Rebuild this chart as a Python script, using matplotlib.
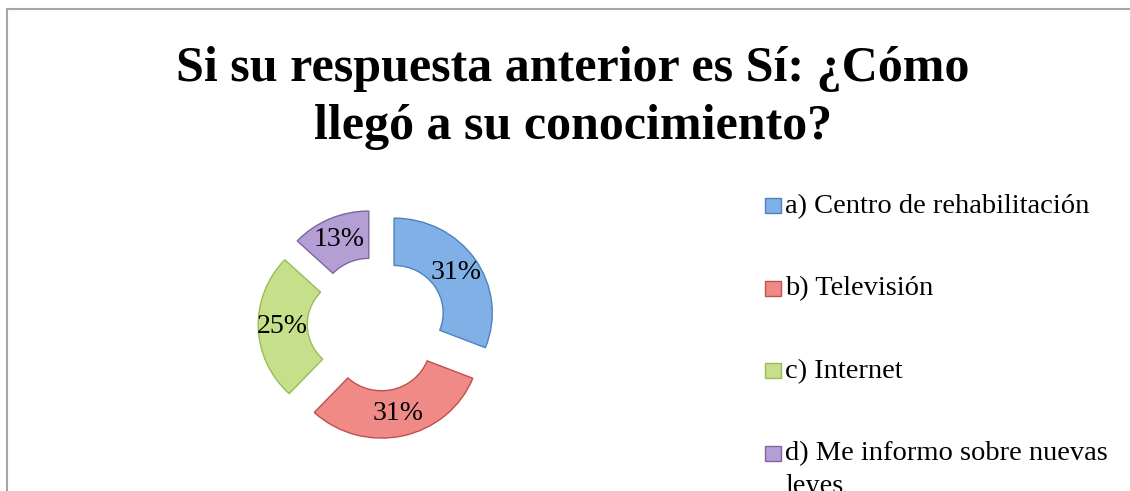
import matplotlib
matplotlib.use("Agg")
import matplotlib.pyplot as plt
from matplotlib.patches import Rectangle
import numpy as np

# data
categories = ["a) Centro de rehabilitación", "b) Televisión", "c) Internet",
              "d) Me informo sobre nuevas\nleyes"]
shares = [31, 31, 25, 13]
labels = ["31%", "31%", "25%", "13%"]
colors = ["#7fb0e6", "#f08a87", "#c6df8a", "#b39fd3"]
edge_colors = ["#4f81bd", "#c0504d", "#9bbb59", "#8064a2"]

title = "Si su respuesta anterior es Sí: ¿Cómo\nllegó a su conocimiento?"

plt.rcParams["font.family"] = ["Liberation Serif", "DejaVu Serif"]

W, H = 1130, 491
fig = plt.figure(figsize=(W / 100, H / 100), dpi=100)

# chart frame (bottom and right run off the picture)
fig.patches.append(Rectangle((7 / W, -0.1), 1.2, (H - 9) / H + 0.1,
                             transform=fig.transFigure, fill=False,
                             edgecolor="#a6a6a6", linewidth=1.5))

fig.text(0.507, 1 - 98 / H, title, ha="center", va="center", fontsize=36,
         fontweight="bold", linespacing=1.33)

# pie axes, centred on the donut (picture is a touch wider than tall)
cx, cy = 377, 324
ux, uy = 98.2, 94.7
ax = fig.add_axes([(cx - 1.5 * ux) / W, 1 - (cy + 1.5 * uy) / H, 3 * ux / W, 3 * uy / H])
wedges, texts = ax.pie(shares, colors=colors, startangle=90, counterclock=False,
                       explode=[0.21] * 4, radius=1.0,
                       wedgeprops=dict(width=0.5, linewidth=1.0))
for w, ec in zip(wedges, edge_colors):
    w.set_edgecolor(ec)
ax.set_xlim(-1.5, 1.5)
ax.set_ylim(-1.5, 1.5)
ax.set_aspect("auto")
ax.axis("off")

# percentage labels in the middle of each (exploded) ring segment
for w, lab in zip(wedges, labels):
    ang = np.deg2rad((w.theta1 + w.theta2) / 2)
    x0, y0 = w.center
    ax.text(x0 + 0.76 * np.cos(ang), y0 + 0.76 * np.sin(ang), lab,
            ha="center", va="center", fontsize=20)

# legend on the right: small square keys, first-line baselines 82.5 px apart,
# wrapped lines 32 px below
for i, (cat, col, ec) in enumerate(zip(categories, colors, edge_colors)):
    base = 213 + 82.5 * i
    fig.patches.append(Rectangle((765 / W, 1 - base / H), 16 / W, 15 / H,
                                 transform=fig.transFigure, facecolor=col,
                                 edgecolor=ec, linewidth=1.0))
    for k, line in enumerate(cat.split("\n")):
        fig.text(785 / W, 1 - (base + 32 * k) / H, line, ha="left",
                 va="baseline", fontsize=20.5)

fig.savefig("out.png", dpi=100)
